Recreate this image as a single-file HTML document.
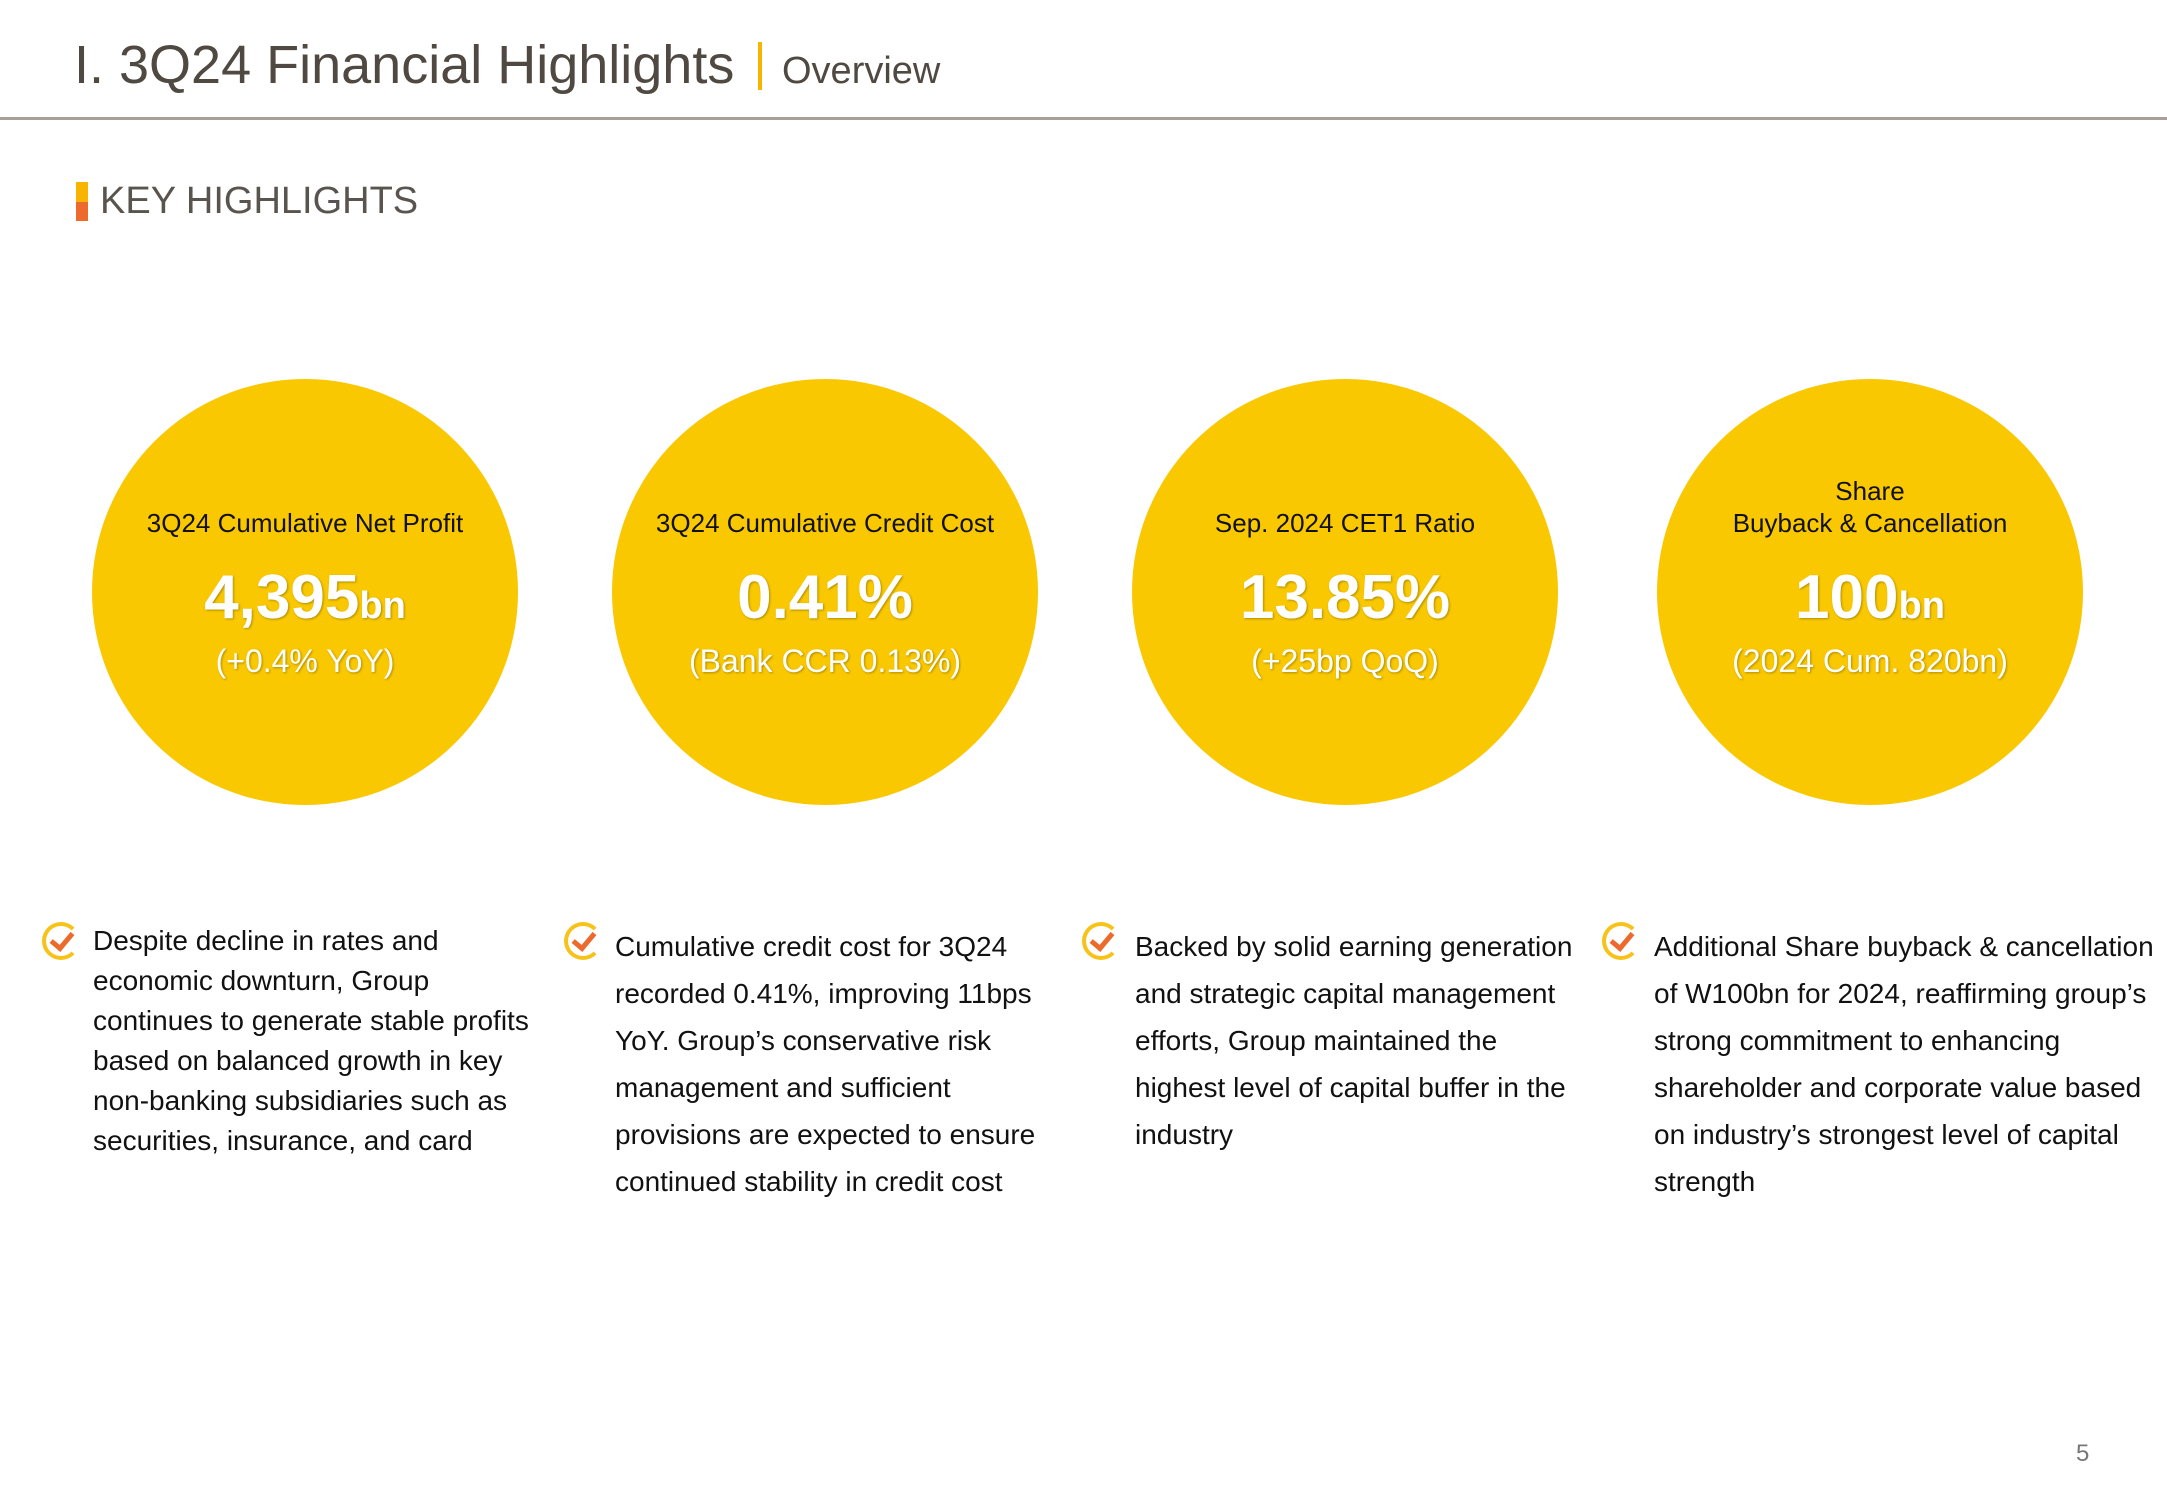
<!DOCTYPE html>
<html><head><meta charset="utf-8"><style>
body{margin:0;width:2167px;height:1500px;background:#fff;position:relative;overflow:hidden;font-family:"Liberation Sans",sans-serif}
.a{position:absolute;white-space:nowrap}
.c{position:absolute;width:426px;height:426px;border-radius:50%;background:#f9c800;top:379px}
.c div{position:absolute;left:0;width:100%;text-align:center;white-space:nowrap}
.l{color:#111;font-size:26px;top:128px;line-height:32px}
.v{color:#fff;font-size:62px;top:183px;line-height:72px;font-weight:bold;text-shadow:1px 1px 2px rgba(0,0,0,.3)}
.v span{font-size:38px}
.s{color:#fff;font-size:32px;top:262px;line-height:40px;text-shadow:1px 1px 2px rgba(0,0,0,.3)}
.t{position:absolute;font-size:28px;color:#111;line-height:40px}
.t2{line-height:47px}
.ic{position:absolute;width:30px;height:30px;border:4px solid #f7c21a;border-radius:50%;border-right-color:transparent}
.ic:after{content:"";position:absolute;left:9px;top:2px;width:9px;height:17px;border:solid #ec6a2c;border-width:0 5px 5px 0;transform:rotate(40deg)}
</style></head><body>
<div class="a" style="left:74px;top:30px;font-size:54px;color:#4f4942;line-height:70px">I. 3Q24 Financial Highlights</div>
<div class="a" style="left:758px;top:42px;width:4px;height:48px;background:#f7b500"></div>
<div class="a" style="left:782px;top:46px;font-size:38px;color:#4f4942;line-height:50px">Overview</div>
<div class="a" style="left:0;top:117px;width:2167px;height:3px;background:#aaa09a"></div>
<div class="a" style="left:76px;top:182px;width:12px;height:20px;background:#f7b500"></div>
<div class="a" style="left:76px;top:202px;width:12px;height:19px;background:#ec6a2c"></div>
<div class="a" style="left:100px;top:178px;font-size:38px;color:#5a544e;line-height:46px">KEY HIGHLIGHTS</div>

<div class="c" style="left:92px"><div class="l">3Q24 Cumulative Net Profit</div><div class="v">4,395<span>bn</span></div><div class="s">(+0.4% YoY)</div></div>
<div class="c" style="left:612px"><div class="l">3Q24 Cumulative Credit Cost</div><div class="v">0.41%</div><div class="s">(Bank CCR 0.13%)</div></div>
<div class="c" style="left:1132px"><div class="l">Sep. 2024 CET1 Ratio</div><div class="v">13.85%</div><div class="s">(+25bp QoQ)</div></div>
<div class="c" style="left:1657px"><div class="l" style="top:96px">Share<br>Buyback &amp; Cancellation</div><div class="v">100<span>bn</span></div><div class="s">(2024 Cum. 820bn)</div></div>

<div class="ic" style="left:42px;top:922px"></div>
<div class="t" style="left:93px;top:921px">Despite decline in rates and<br>economic downturn, Group<br>continues to generate stable profits<br>based on balanced growth in key<br>non-banking subsidiaries such as<br>securities, insurance, and card</div>
<div class="ic" style="left:564px;top:922px"></div>
<div class="t t2" style="left:615px;top:923px">Cumulative credit cost for 3Q24<br>recorded 0.41%, improving 11bps<br>YoY. Group’s conservative risk<br>management and sufficient<br>provisions are expected to ensure<br>continued stability in credit cost</div>
<div class="ic" style="left:1082px;top:922px"></div>
<div class="t t2" style="left:1135px;top:923px">Backed by solid earning generation<br>and strategic capital management<br>efforts, Group maintained the<br>highest level of capital buffer in the<br>industry</div>
<div class="ic" style="left:1602px;top:922px"></div>
<div class="t t2" style="left:1654px;top:923px">Additional Share buyback &amp; cancellation<br>of W100bn for 2024, reaffirming group’s<br>strong commitment to enhancing<br>shareholder and corporate value based<br>on industry’s strongest level of capital<br>strength</div>
<div class="a" style="left:2076px;top:1440px;font-size:24px;color:#777">5</div>
</body></html>
